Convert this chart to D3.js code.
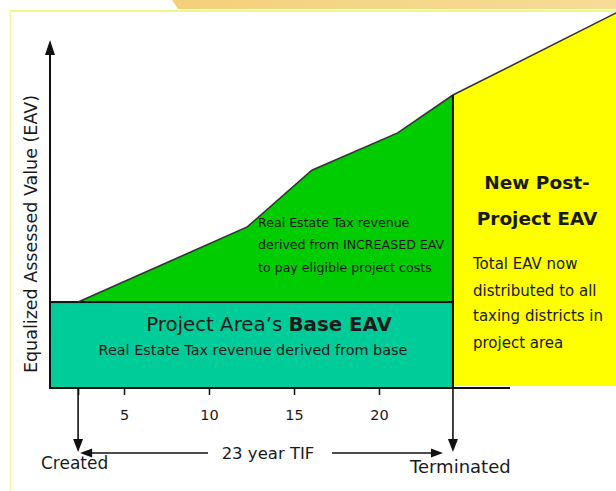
<!DOCTYPE html>
<html><head><meta charset="utf-8">
<script src="https://cdn.jsdelivr.net/npm/d3@7"></script>
<style>
html,body{margin:0;padding:0;background:#fff;}
svg{display:block;}
text{font-family:"DejaVu Sans",Verdana,sans-serif;fill:#1a1a1a;}
</style></head>
<body>
<script>
// ---- data ----
const tickYears = [5, 10, 15, 20];
const tifStartYear = 2.3;     // "Created"
const tifEndYear = 24.35;     // "Terminated"
const tifLengthLabel = "23 year TIF";
const baseEAV = 24.7;
const eavYears  = [2.3, 12.25, 16.05, 21.1, 24.35, 33.95];
const eavValues = [24.7, 46.3, 62.6, 73.3, 84.2, 107.8];
const yAxisLabel = "Equalized Assessed Value (EAV)";
const increasedText = ["Real Estate Tax revenue", "derived from INCREASED EAV", "to pay eligible project costs"];
const postTitle = ["New Post-", "Project EAV"];
const postText = ["Total EAV now", "distributed to all", "taxing districts in", "project area"];

// ---- layout ----
const W = 616, H = 491;
const plotLeft = 50, plotBottom = 388, axisTop = 40, axisRightEnd = 510;
const svg = d3.select("body").append("svg").attr("width", W).attr("height", H);

const x = d3.scaleLinear().domain([5, 20]).range([124, 379]);
const y = d3.scaleLinear().domain([0, 100]).range([plotBottom, axisTop]);

// decorative frame
const grad = svg.append("defs").append("linearGradient").attr("id","og");
grad.append("stop").attr("offset","0%").attr("stop-color","#f4d07a");
grad.append("stop").attr("offset","100%").attr("stop-color","#f6dc98");
svg.append("path").attr("d","M172,0 L616,0 L616,9 L178,9 Z").attr("fill","url(#og)");
svg.append("line").attr("x1",10).attr("x2",W).attr("y1",11).attr("y2",11).attr("stroke","#eef88a").attr("stroke-width",2);
svg.append("line").attr("x1",10.5).attr("x2",10.5).attr("y1",10).attr("y2",H).attr("stroke","#f2f89a").attr("stroke-width",1.5);

const pts = eavYears.map((d,i)=>[x(d), y(eavValues[i])]);
const endIdx = eavYears.indexOf(tifEndYear);

// yellow post-project region
const yellowPts = [[x(tifEndYear), plotBottom - 2]].concat(pts.slice(endIdx)).concat([[W, plotBottom - 2]]);
svg.append("path").attr("d", d3.line()(yellowPts) + "Z").attr("fill", "#ffff00");

// green increment region
const greenPts = pts.slice(0, endIdx + 1).concat([[x(tifEndYear), y(baseEAV)]]);
svg.append("path").attr("d", d3.line()(greenPts) + "Z").attr("fill", "#00cc00");

// base rect
svg.append("rect").attr("x", plotLeft).attr("y", y(baseEAV))
  .attr("width", x(tifEndYear) - plotLeft).attr("height", plotBottom - y(baseEAV))
  .attr("fill", "#00cc99").attr("stroke", "#111").attr("stroke-width", 2);

// EAV line
svg.append("path").attr("d", d3.line()(pts)).attr("fill","none").attr("stroke","#333").attr("stroke-width",1.6);
// termination vertical
svg.append("line").attr("x1", x(tifEndYear)).attr("x2", x(tifEndYear))
  .attr("y1", y(eavValues[endIdx])).attr("y2", plotBottom).attr("stroke","#111").attr("stroke-width",2);

// x axis
const xAxisTicks = [tifStartYear].concat(tickYears);
const gx = svg.append("g").attr("transform", `translate(0,${plotBottom})`)
  .call(d3.axisBottom(x).tickValues(xAxisTicks).tickSize(7).tickPadding(15)
    .tickFormat(d => tickYears.includes(d) ? d : ""));
gx.select(".domain").remove();
gx.selectAll(".tick line").attr("stroke","#111").attr("stroke-width",1.5);
gx.selectAll(".tick text").attr("font-size",14.5).attr("font-family","DejaVu Sans").attr("fill","#1a1a1a");
svg.append("line").attr("x1", plotLeft - 1).attr("x2", axisRightEnd).attr("y1", plotBottom).attr("y2", plotBottom)
  .attr("stroke","#111").attr("stroke-width",2);

// y axis with arrow
svg.append("line").attr("x1", plotLeft).attr("x2", plotLeft).attr("y1", plotBottom + 1).attr("y2", axisTop + 12)
  .attr("stroke","#111").attr("stroke-width",2);
svg.append("path").attr("d", `M${plotLeft},${axisTop} L${plotLeft-5},${axisTop+15} L${plotLeft+5},${axisTop+15} Z`).attr("fill","#111");
svg.append("text").attr("transform", `translate(37,234) rotate(-90)`).attr("text-anchor","middle")
  .attr("font-size", 17.5).attr("fill","#222").text(yAxisLabel);

// down arrows
function downArrow(xx){
  svg.append("line").attr("x1",xx).attr("x2",xx).attr("y1",plotBottom).attr("y2",442).attr("stroke","#111").attr("stroke-width",1.6);
  svg.append("path").attr("d",`M${xx},452 L${xx-5},439 L${xx+5},439 Z`).attr("fill","#111");
}
downArrow(x(tifStartYear));
downArrow(x(tifEndYear));
// horizontal arrows
const ay = 453;
const xs = x(tifStartYear), xe = x(tifEndYear);
svg.append("line").attr("x1", xs + 10).attr("x2", 208).attr("y1", ay).attr("y2", ay).attr("stroke","#111").attr("stroke-width",1.5);
svg.append("path").attr("d",`M${xs+2},${ay} L${xs+14},${ay-4.5} L${xs+14},${ay+4.5} Z`).attr("fill","#111");
svg.append("line").attr("x1", 332).attr("x2", xe - 18).attr("y1", ay).attr("y2", ay).attr("stroke","#111").attr("stroke-width",1.5);
svg.append("path").attr("d",`M${xe-10},${ay} L${xe-22},${ay-4.5} L${xe-22},${ay+4.5} Z`).attr("fill","#111");
svg.append("text").attr("x", 268).attr("y", 459).attr("text-anchor","middle").attr("font-size",16.5).text(tifLengthLabel);
svg.append("text").attr("x", 41).attr("y", 469).attr("font-size",17).text("Created");
svg.append("text").attr("x", 410).attr("y", 473).attr("font-size",18).text("Terminated");

// green text
increasedText.forEach((t,i)=>{
  svg.append("text").attr("x",258).attr("y",[227,249,272][i]).attr("font-size",12.6).attr("fill","#111").text(t);
});

// base text
const bt = svg.append("text").attr("x",269).attr("y",331).attr("text-anchor","middle").attr("font-size",19.8).attr("fill","#111");
bt.append("tspan").text("Project Area\u2019s ");
bt.append("tspan").attr("font-weight","bold").text("Base EAV");
svg.append("text").attr("x",253).attr("y",355).attr("text-anchor","middle").attr("font-size",14.4).attr("fill","#111")
  .text("Real Estate Tax revenue derived from base");

// yellow text
postTitle.forEach((t,i)=>{
  svg.append("text").attr("x",537).attr("y",[189,225][i]).attr("text-anchor","middle").attr("font-size",18.5)
    .attr("font-weight","bold").attr("fill","#111").text(t);
});
postText.forEach((t,i)=>{
  svg.append("text").attr("x",473).attr("y",[269,296,321,348][i]).attr("font-size",15).attr("fill","#111").text(t);
});
</script>
</body></html>
